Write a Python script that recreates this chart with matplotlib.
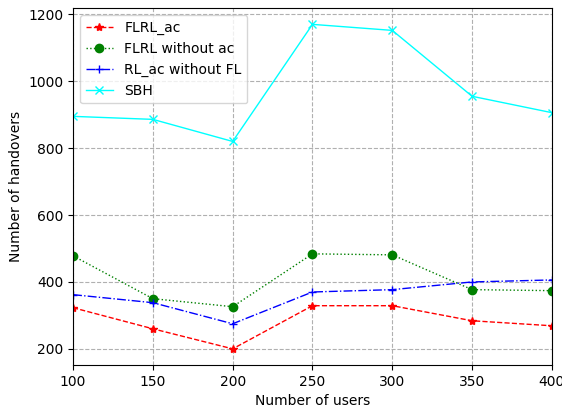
import matplotlib
matplotlib.use("Agg")
import matplotlib.pyplot as plt

# number of users on the x axis
users = [100, 150, 200, 250, 300, 350, 400]

# handover counts per method
flrl_ac = [323, 260, 200, 329, 329, 284, 269]
flrl_no_ac = [478, 350, 326, 484, 481, 377, 374]
rl_ac_no_fl = [362, 338, 275, 370, 377, 400, 406]
sbh = [895, 886, 820, 1170, 1152, 955, 906]

fig, ax = plt.subplots(figsize=(5.62, 4.07), dpi=100)
fig.subplots_adjust(left=0.13, right=0.982, top=0.98, bottom=0.103)

ax.plot(users, flrl_ac, color="red", linestyle="--", marker="*", linewidth=1, label="FLRL_ac")
ax.plot(users, flrl_no_ac, color="green", linestyle=":", marker="o", linewidth=1, label="FLRL without ac")
ax.plot(users, rl_ac_no_fl, color="blue", linestyle="-.", marker="+", linewidth=1, label="RL_ac without FL")
ax.plot(users, sbh, color="cyan", linestyle="-", marker="x", linewidth=1, label="SBH")

ax.set_xlim(100, 400)
ax.set_xlabel("Number of users")
ax.set_ylabel("Number of handovers")
ax.grid(True, linestyle="--", color="#b0b0b0")
ax.legend(loc="upper left")

fig.savefig("out.png", dpi=100)
